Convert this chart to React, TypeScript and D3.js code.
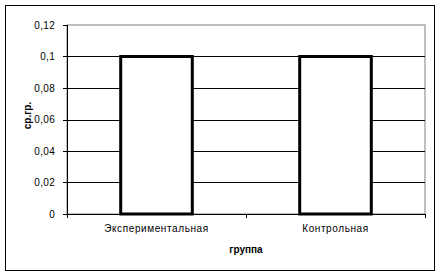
import React from "react";
import * as d3 from "d3";

const categories = ["Экспериментальная", "Контрольная"];
const values = [0.1, 0.1];
const yTicks = [0, 0.02, 0.04, 0.06, 0.08, 0.1, 0.12];
const yTickLabels = ["0", "0,02", "0,04", "0,06", "0,08", "0,1", "0,12"];
const xTitle = "группа";
const yTitle = "ср.гр.";

export default function App() {
  const W = 441, H = 278;
  const left = 67, right = 425, top = 25, bottom = 214;
  const y = d3.scaleLinear().domain([0, 0.12]).range([bottom, top]);
  const x = d3.scaleBand().domain(categories).range([left, right]).paddingInner(0).paddingOuter(0);
  const bw = x.bandwidth() * 0.4;
  const font = "'Liberation Sans', Arial, sans-serif";
  return (
    <svg width={W} height={H} style={{ position: "absolute", left: 0, top: 0 }}>
      <rect x={0} y={0} width={W} height={H} fill="#fff" />
      <rect x={5.5} y={5.5} width={429} height={265} fill="#fff" stroke="#000" strokeWidth={1} />
      <rect x={left} y={top} width={right - left} height={bottom - top} fill="#fff" stroke="#808080" strokeWidth={1} />
      {yTicks.map((t, i) => (
        <g key={i}>
          {t > 0 && t < 0.12 && (
            <line x1={left} x2={right} y1={Math.round(y(t)) + 0.5} y2={Math.round(y(t)) + 0.5} stroke="#000" />
          )}
          <line x1={left - 4} x2={left} y1={Math.round(y(t)) + 0.5} y2={Math.round(y(t)) + 0.5} stroke="#000" />
          <text x={left - 12} y={y(t) + 3.5} textAnchor="end" fontFamily={font} fontSize={10} letterSpacing={0.3} fill="#000">
            {yTickLabels[i]}
          </text>
        </g>
      ))}
      <line x1={left + 0.5} x2={left + 0.5} y1={top} y2={bottom} stroke="#000" />
      <line x1={left} x2={right} y1={bottom + 0.5} y2={bottom + 0.5} stroke="#000" />
      {[0, 1, 2].map((k) => {
        const xx = Math.round(left + (k * (right - left)) / 2) + 0.5;
        return <line key={k} x1={xx} x2={xx} y1={bottom} y2={bottom + 4} stroke="#000" />;
      })}
      {categories.map((c, i) => {
        const cx = (x(c) as number) + x.bandwidth() / 2;
        return (
          <g key={c}>
            <rect x={cx - bw / 2} y={y(values[i])} width={bw} height={bottom - y(values[i])} fill="#fff" stroke="#000" strokeWidth={3} />
            <text x={cx} y={232} textAnchor="middle" fontFamily={font} fontSize={10} letterSpacing={0.6} fill="#000">
              {c}
            </text>
          </g>
        );
      })}
      <text x={(left + right) / 2} y={253} textAnchor="middle" fontFamily={font} fontSize={10} fontWeight="bold" fill="#000">
        {xTitle}
      </text>
      <text transform={`translate(31,115.5) rotate(-90)`} textAnchor="middle" fontFamily={font} fontSize={10} fontWeight="bold" fill="#000">
        {yTitle}
      </text>
    </svg>
  );
}
